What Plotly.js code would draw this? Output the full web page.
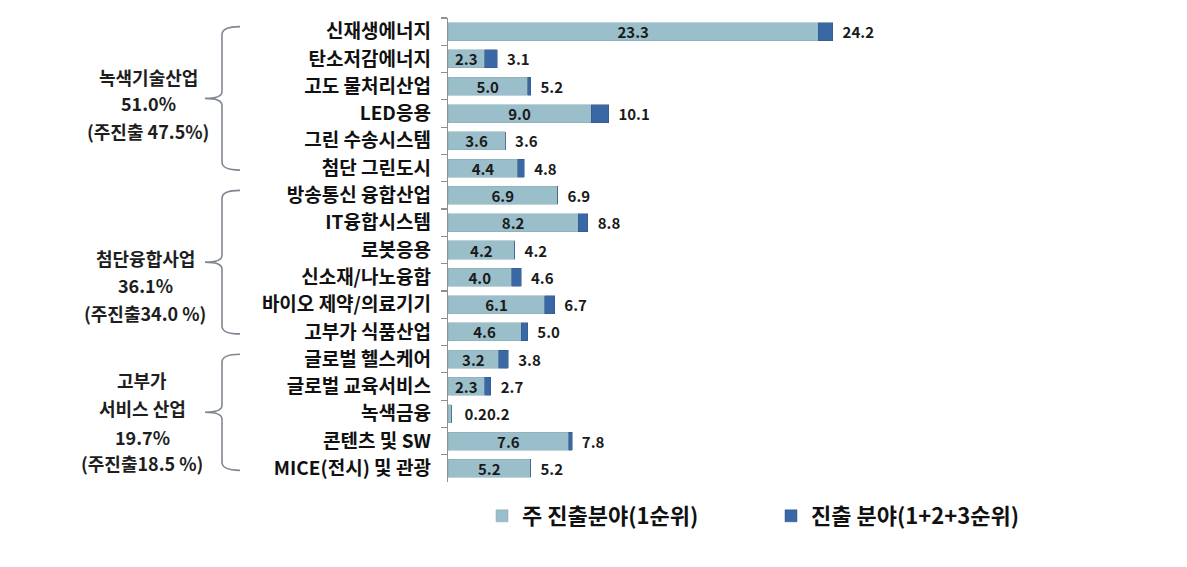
<!DOCTYPE html>
<html>
<head>
<meta charset="utf-8">
<script src="https://cdn.plot.ly/plotly-3.0.1.min.js"></script>
<style>
  html, body { margin: 0; padding: 0; background: #ffffff; }
  #chart { width: 1187px; height: 567px; }
</style>
</head>
<body>
<div id="chart"></div>
<script>
// ---- data ----
const categories = [
  '신재생에너지', '탄소저감에너지', '고도 물처리산업', 'LED응용', '그린 수송시스템', '첨단 그린도시',
  '방송통신 융합산업', 'IT융합시스템', '로봇응용', '신소재/나노융합', '바이오 제약/의료기기', '고부가 식품산업',
  '글로벌 헬스케어', '글로벌 교육서비스', '녹색금융', '콘텐츠 및 SW', 'MICE(전시) 및 관광'
];
const mainValues  = [23.3, 2.3, 5.0, 9.0, 3.6, 4.4, 6.9, 8.2, 4.2, 4.0, 6.1, 4.6, 3.2, 2.3, 0.2, 7.6, 5.2];
const totalValues = [24.2, 3.1, 5.2, 10.1, 3.6, 4.8, 6.9, 8.8, 4.2, 4.6, 6.7, 5.0, 3.8, 2.7, 0.2, 7.8, 5.2];
const seriesNames = ['주 진출분야(1순위)', '진출 분야(1+2+3순위)'];

const groups = [
  { first: 0,  last: 5,  lines: ['녹색기술산업', '51.0%', '(주진출 47.5%)'] },
  { first: 6,  last: 11, lines: ['첨단융합사업', '36.1%', '(주진출34.0 %)'] },
  { first: 12, last: 16, lines: ['고부가', '서비스 산업', '19.7%', '(주진출18.5 %)'] }
];

// ---- layout helpers (plot area in pixels) ----
const L = 448, T = 18, W = 636, H = 464;
const PX = px => (px - L) / W;
const PY = py => (T + H - py) / H;
const catPx = i => T + H * (i + 0.5) / categories.length;

const FONT = '"Noto Sans CJK KR", "Noto Sans", sans-serif';

const fits = v => v >= 1;
const extraValues = totalValues.map((t, i) => +(t - mainValues[i]).toFixed(1));
const mainText = mainValues.map(v => fits(v) ? v.toFixed(1) : '');
const totalText = totalValues.map((t, i) =>
  '\u00a0\u00a0' + (fits(mainValues[i]) ? '' : '\u00a0' + mainValues[i].toFixed(1)) + t.toFixed(1));

const traces = [
  {
    type: 'bar', orientation: 'h', name: seriesNames[0],
    y: categories, x: mainValues,
    marker: { color: '#9bbfca', line: { color: '#86a7b1', width: 0.5 } },
    text: mainText, textposition: 'inside', insidetextanchor: 'middle', textangle: 0,
    constraintext: 'none',
    textfont: { family: FONT, size: 15, color: '#1a1a1a', weight: 'bold' },
    hoverinfo: 'x+y'
  },
  {
    type: 'bar', orientation: 'h', name: seriesNames[1],
    y: categories, x: extraValues,
    marker: { color: '#3a68a5', line: { color: '#2d5487', width: 0.5 } },
    text: totalText, textposition: 'outside', textangle: 0, cliponaxis: false,
    constraintext: 'none',
    textfont: { family: FONT, size: 15, color: '#1a1a1a', weight: 'bold' },
    hoverinfo: 'x+y'
  }
];

// ---- group braces and labels ----
const shapes = [];
const annotations = [];
const groupLineY = [[77, 103, 131], [258, 285, 313], [380, 408, 437, 463]];
const groupCenterX = [148, 145, 142];
groups.forEach((g, gi) => {
  const top = catPx(g.first) - 5;
  const bot = catPx(g.last) + 2;
  const tip = (top + bot) / 2;
  const xs = 222, xe = 240, xt = 205;
  const pts = [
    ['M', xe, top],
    ['Q', xs, top, xs, top + 8],
    ['L', xs, tip - 7],
    ['Q', xs, tip, xt, tip],
    ['Q', xs, tip, xs, tip + 7],
    ['L', xs, bot - 8],
    ['Q', xs, bot, xe, bot]
  ];
  const path = pts.map(p => {
    let s = p[0];
    for (let k = 1; k < p.length; k += 2) s += (k > 1 ? ' ' : '') + PX(p[k]).toFixed(5) + ',' + PY(p[k + 1]).toFixed(5);
    return s;
  }).join(' ');
  shapes.push({ type: 'path', xref: 'paper', yref: 'paper', path: path,
    line: { color: '#7f8891', width: 1.6 } });
  g.lines.forEach((txt, li) => {
    annotations.push({
      xref: 'paper', yref: 'paper', x: PX(groupCenterX[gi]), y: PY(groupLineY[gi][li]),
      xanchor: 'center', yanchor: 'middle', showarrow: false, text: '<b>' + txt + '</b>',
      font: { family: FONT, size: 18, color: '#1e1e1e' }
    });
  });
});

const layout = {
  width: 1187, height: 567,
  margin: { l: L, r: 1187 - L - W, t: T, b: 567 - T - H },
  paper_bgcolor: '#ffffff', plot_bgcolor: '#ffffff',
  barmode: 'stack', bargap: 0.34,
  showlegend: true,
  legend: {
    orientation: 'h', x: PX(482), y: PY(516), xanchor: 'left', yanchor: 'middle',
    font: { family: FONT, size: 22, color: '#111111', weight: 'bold' },
    entrywidth: 244, entrywidthmode: 'pixels', traceorder: 'normal'
  },
  xaxis: {
    range: [0, 40], visible: false, showgrid: false, zeroline: false, fixedrange: true
  },
  yaxis: {
    type: 'category', autorange: 'reversed',
    showline: true, linecolor: '#8c9196', linewidth: 1.3,
    ticks: 'outside', tickson: 'boundaries', ticklen: 6, tickcolor: '#8c9196', tickwidth: 1.2,
    ticklabelstandoff: 12,
    tickfont: { family: FONT, size: 19, color: '#111111', weight: 'bold' },
    showgrid: false, zeroline: false, fixedrange: true
  },
  shapes: shapes,
  annotations: annotations,
  font: { family: FONT }
};

Plotly.newPlot('chart', traces, layout, { displayModeBar: false, staticPlot: true });
</script>
</body>
</html>
